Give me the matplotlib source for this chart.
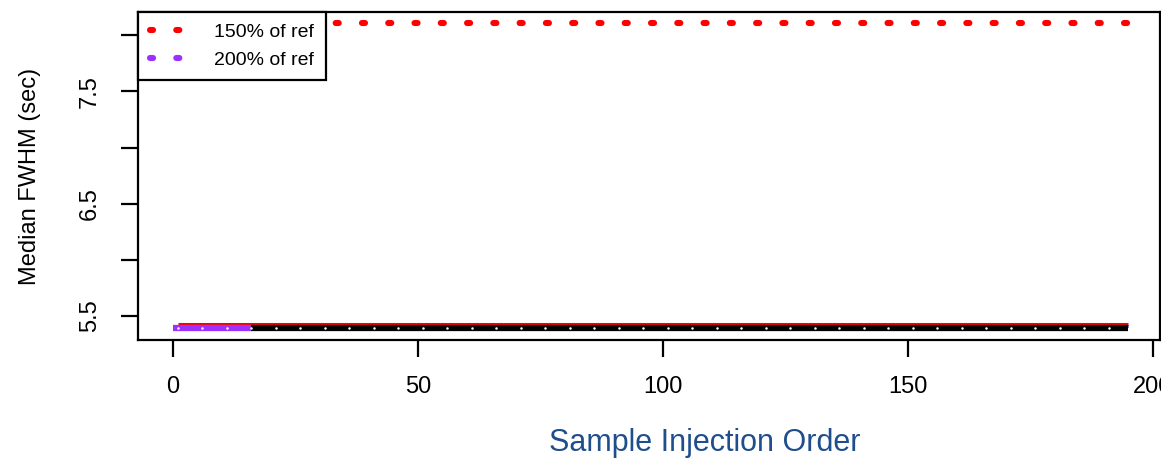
import numpy as np
import matplotlib
matplotlib.use("Agg")
import matplotlib.pyplot as plt
from matplotlib.lines import Line2D

plt.rcParams['font.family'] = ['Liberation Sans', 'DejaVu Sans']

# sample injection order
order = np.arange(1, 196)
ref_fwhm = 5.407
pct150 = 1.5 * ref_fwhm
pct200 = 2.0 * ref_fwhm
upper_line = [5.425] * len(order)
blue_line = [5.41] * len(order)
median_fwhm = [5.39] * len(order)
n_purple = 16          # first samples drawn in purple
dot_every = 5

yticks = [5.5, 6.0, 6.5, 7.0, 7.5, 8.0]
ytick_labels = ["5.5", "", "6.5", "", "7.5", ""]
xticks = [0, 50, 100, 150, 200]

dots = (0, (0.5, 3.8))
purple = "#9b30ff"

fig = plt.figure(figsize=(11.61, 4.61), dpi=100)
ax = fig.add_axes([0.119, 0.2625, 0.88, 0.7115])

ax.plot(order, [pct150] * len(order), color="red", lw=4.4,
        linestyle=dots, dash_capstyle="round")
ax.plot(order, [pct200] * len(order), color=purple, lw=4.4,
        linestyle=dots, dash_capstyle="round")
ax.plot(order, upper_line, color="red", lw=2.2, solid_capstyle="butt")
ax.plot(order, blue_line, color="blue", lw=2.2, solid_capstyle="butt")
ax.plot(order[n_purple - 1:], median_fwhm[n_purple - 1:], color="black",
        lw=4.5, solid_capstyle="butt")
ax.plot(np.r_[0, order[:n_purple]], median_fwhm[:n_purple + 1], color=purple,
        lw=4.5, solid_capstyle="butt")
ax.plot(order[::dot_every], median_fwhm[::dot_every], linestyle="none",
        marker="o", ms=1.8, color="white", mew=0)

ax.set_xlim(-7.1, 201.4)
ax.set_ylim(5.286, 8.208)
ax.set_xticks(xticks)
ax.set_xticklabels([str(v) for v in xticks], fontsize=17)
ax.set_yticks(yticks)
ax.set_yticklabels(ytick_labels, fontsize=17, rotation=90, va="center")
ax.tick_params(axis="both", length=12, width=1.6)
ax.tick_params(axis="x", pad=14)
ax.tick_params(axis="y", pad=15)
for sp in ax.spines.values():
    sp.set_linewidth(1.6)

ax.set_ylabel("Median FWHM (sec)", fontsize=17, labelpad=27)
fig.text(705 / 1161, 1 - 443 / 461, "Sample Injection Order", color="#1f4e8c",
         fontsize=22, ha="center", va="center")

handles = [
    Line2D([], [], color="red", lw=4.4, linestyle=dots, dash_capstyle="round"),
    Line2D([], [], color=purple, lw=4.4, linestyle=dots, dash_capstyle="round"),
]
leg = ax.legend(handles, ["150% of ref", "200% of ref"], loc="upper left",
                bbox_to_anchor=(0.0, 1.0), fontsize=14, frameon=True,
                fancybox=False, borderaxespad=0, handlelength=2.4,
                handletextpad=0.9, borderpad=0.6, labelspacing=0.5,
                framealpha=1)
leg.get_frame().set_edgecolor("black")
leg.get_frame().set_linewidth(1.6)

fig.savefig("out.png", dpi=100)
